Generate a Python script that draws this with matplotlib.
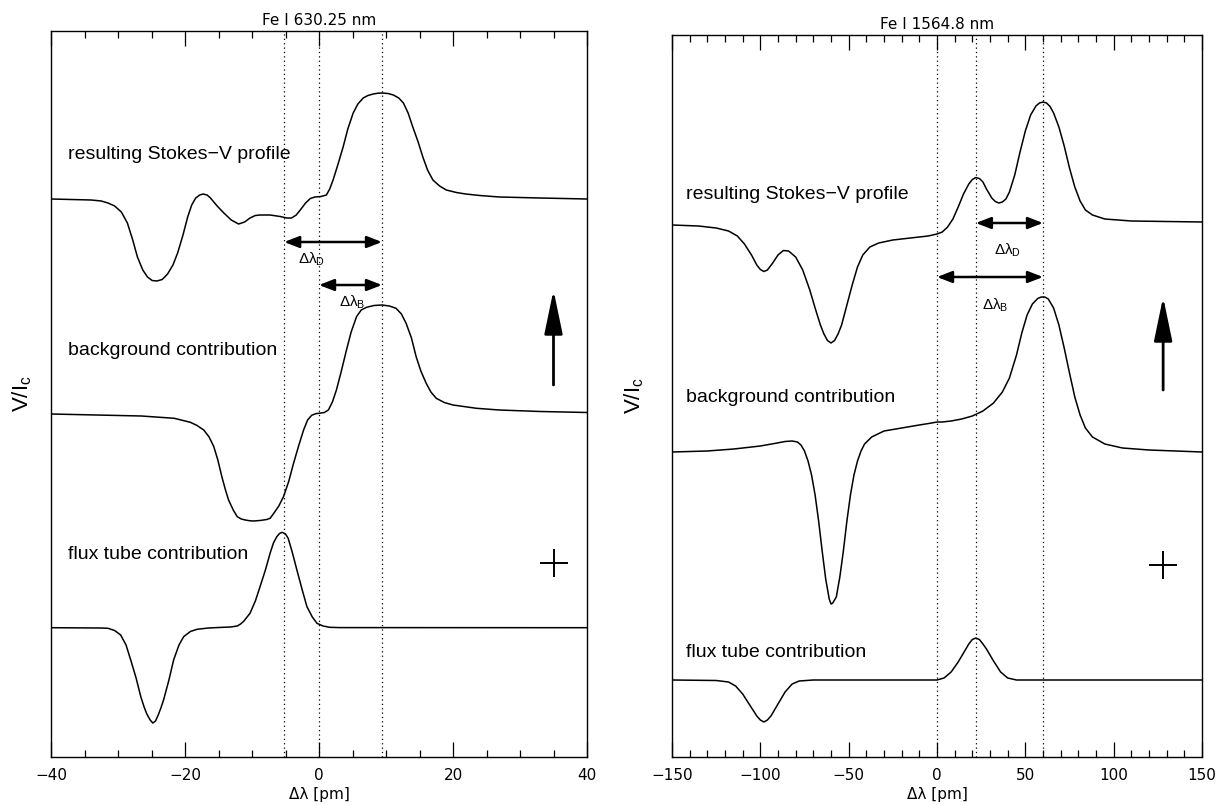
import matplotlib
matplotlib.use('Agg')
from matplotlib import pyplot as plt
from matplotlib.ticker import MultipleLocator

plt.rcParams['font.family'] = ['DejaVu Sans']
plt.rcParams['mathtext.fontset'] = 'custom'
plt.rcParams['mathtext.rm'] = 'Liberation Sans'
plt.rcParams['mathtext.it'] = 'Liberation Sans'

# ---- Fe I 630.25 nm (left) ----  x: delta lambda [pm], y: V/Ic (arbitrary, incl. offset)
l_stokes_x = [-40, -34, -32.5, -31.5, -30.5, -29.5, -28.6, -27.8, -27.1, -26.3, -25.6, -24.9, -24.2, -23.4, -22.6, -21.8,
              -21.1, -20.3, -19.6, -19.0, -18.4, -17.8, -17.3, -16.7, -16.2, -15.2, -14.2, -13.1, -12.0, -11.1, -10.3, -9.5,
              -8.8, -7.3, -5.8, -4.8, -4.1, -3.4, -2.8, -2.0, -1.3, -0.6, 0.3, 1.1, 1.6, 2.1, 2.8, 3.6, 4.3, 5.1, 5.8, 6.6,
              7.3, 8.1, 8.8, 9.4, 10.3, 11.1, 11.9, 12.6, 13.3, 14.0, 14.8, 15.5, 16.2, 17.0, 18.0, 19.0, 20.5, 21.9, 24,
              26.9, 33, 40]
l_stokes_y = [558, 557, 556, 554, 551, 545, 534, 517, 500, 487, 480, 476.5, 476, 477.5, 483, 492,
              504, 522, 540, 552, 559, 562, 563, 562, 559, 551, 544, 537, 533, 535, 539, 541.5,
              542, 542, 540.5, 539, 539, 542, 547, 554, 558.5, 560, 560.5, 562, 568, 577, 592, 610, 628, 644, 653, 659,
              661.5, 663, 663.8, 664, 663.5, 662, 659, 654, 644, 630, 615, 600, 587, 577, 571, 567, 564.5, 563, 561.5,
              560, 559, 558]
l_bg_x = [-40, -26.5, -21.6, -19.2, -18.2, -17.2, -16.4, -15.7, -15.1, -14.5, -14.0, -13.5, -12.8, -12.2, -11.6, -11.0,
          -10.4, -9.8, -8.8, -7.8, -7.3, -6.8, -6.0, -5.3, -4.5, -3.8, -3.0, -2.3, -1.7, -1.1, -0.5, 0.1, 0.8, 1.4, 2.0,
          2.6, 3.3, 4.1, 4.8, 5.6, 6.3, 7.1, 8.2, 9.4, 10.5, 11.5, 12.3, 13.0, 13.8, 14.5, 15.2, 16.0, 16.7, 17.5, 18.7,
          20.0, 23.5, 26.9, 33, 40]
l_bg_y = [343, 341, 338.7, 334.7, 331.5, 327, 320, 310.3, 297, 280.3, 268, 257, 247, 240.3, 238, 237,
          236.3, 236, 236.5, 237.5, 238.7, 243.2, 251, 260.3, 276, 293.7, 312, 327, 337, 341.7, 343.3, 343.8, 344.5, 347, 355,
          367, 385, 407, 425, 440.3, 447, 449.7, 451.5, 452, 451, 448.7, 443, 433.7, 419, 400.3, 386, 373.7, 365, 358.7, 354.5,
          352, 348.7, 347, 345.5, 344.5]
l_flux_x = [-40, -32.5, -31.5, -30.5, -29.6, -28.8, -28.1, -27.3, -26.6, -26.1, -25.7, -25.2, -24.8, -24.4, -24.0, -23.6,
            -23.2, -22.4, -21.7, -20.9, -20.2, -19.2, -18.2, -16.5, -15, -13.2, -12.2, -11.7, -11.2, -10.3, -9.5, -8.8,
            -8.0, -7.3, -6.8, -6.3, -5.9, -5.5, -5.0, -4.6, -4.0, -3.3, -2.5, -1.8, -1.0, -0.3, 0.6, 1.6, 3, 40]
l_flux_y = [129.3, 129, 128.7, 126.5, 122, 112, 97, 79, 60.3, 50, 43, 37, 34, 36, 42, 49,
            57, 77, 97, 112, 120.3, 125.5, 127.7, 129, 129.5, 130, 131, 133, 136, 143.7, 156, 170.3,
            187, 203.7, 214, 220.3, 223.5, 224.7, 223, 218.7, 205, 187, 167, 150.3, 140, 133.7, 131, 129.7, 129.4, 129.3]
l_lines = [-5.2, 0, 9.4]  # dotted reference positions

# ---- Fe I 1564.8 nm (right) ----
r_stokes_x = [-150, -135, -125, -118, -113, -109, -105, -102, -100, -98, -96, -93, -90, -87, -84, -80, -76, -72, -69, -66,
              -64, -62, -60, -58, -56, -54, -51, -48, -45, -42, -38, -33, -25, -15, -5, 0, 3, 6, 9, 12, 15, 18, 20, 22,
              24, 26, 28, 31, 33, 35, 37, 39, 41, 44, 47, 50, 53, 56, 58, 60, 62, 64, 66, 69, 72, 75, 78, 81, 84, 88, 95,
              110, 150]
r_stokes_y = [532, 531, 529, 526, 521, 513, 502, 492, 487.5, 485.5, 487, 494, 502, 506.5, 506, 500, 487, 467, 449, 432,
              423, 416.5, 414, 416.5, 423, 432, 452, 472, 490, 502, 510, 514, 517, 519, 521, 523, 525, 530, 538, 550, 563, 573, 577.5, 579.5,
              578.5, 575, 568, 559, 555.5, 554, 555, 558, 565, 582, 605, 626, 642, 651, 654, 655, 654, 650.5, 644, 630, 611, 589, 570, 556, 547, 542, 538,
              536, 535]
r_bg_x = [-150, -130, -115, -100, -92, -86, -82, -79, -77, -75, -73, -71, -69, -67, -65, -63, -61, -60, -59, -57, -55, -53,
          -51, -49, -47, -45, -43, -41, -37, -30, -20, -10, -3, 0, 3, 8, 14, 20, 26, 32, 37, 41, 45, 48, 51, 54, 57, 59,
          60, 61, 63, 66, 69, 72, 75, 78, 81, 84, 88, 95, 105, 120, 150]
r_bg_y = [305, 306, 308, 311, 313.5, 315.5, 316, 315, 312, 306, 296, 282, 262, 236, 206, 178, 158, 153, 154, 160, 180, 206,
          236, 262, 282, 296, 306, 313, 320, 326, 329, 332, 334, 335, 335, 336, 338, 341, 346, 354, 365, 379, 402, 424, 442, 453, 458.5, 460,
          460, 460, 458, 449, 432, 409, 384, 360, 342, 329, 320, 313, 309, 307, 305]
r_flux_x = [-150, -125, -118, -114, -110, -106, -102, -100, -98, -96, -94, -90, -86, -82, -78, -70, 0, 4, 8, 12, 16, 18,
            20, 22, 24, 26, 28, 32, 36, 40, 45, 150]
r_flux_y = [77, 76.5, 75, 71, 63, 52, 41, 37, 35, 37, 41, 53, 65, 73, 76, 77, 77, 79, 85, 95, 107, 113,
            117.5, 119, 117.5, 113, 108, 96, 85, 79, 77, 77]
r_lines = [0, 22, 60]

labels = ['resulting Stokes\u2212V profile', 'background contribution', 'flux tube contribution']


def panel(ax, title, xlim, ylim, major, minor, curves, lines):
    for x, y in curves:
        ax.plot(x, y, c='k', lw=1.1)
    for v in lines:
        ax.axvline(v, c='k', ls=(0, (1, 2.5)), lw=0.9)
    ax.set_xlim(*xlim)
    ax.set_ylim(*ylim)
    ax.xaxis.set_major_locator(MultipleLocator(major))
    ax.xaxis.set_minor_locator(MultipleLocator(minor))
    ax.tick_params(axis='x', which='both', direction='in', top=True, bottom=True, labelsize=11, pad=8)
    ax.tick_params(axis='x', which='major', length=10.5, width=0.9)
    ax.tick_params(axis='x', which='minor', length=5, width=0.9)
    ax.set_yticks([])
    for s in ax.spines.values():
        s.set_linewidth(1.0)
    ax.set_title(title, fontsize=11, pad=4)
    ax.set_xlabel('\u0394\u03bb [pm]', fontsize=11, labelpad=3)
    ax.set_ylabel('V/I$_\\mathrm{c}$', fontsize=16, family='Liberation Sans')


def dbl_arrow(ax, x0, x1, y):
    ax.annotate('', xy=(x1, y), xytext=(x0, y),
                arrowprops=dict(arrowstyle='<|-|>,head_length=0.9,head_width=0.35', mutation_scale=10,
                                lw=1.8, color='k', shrinkA=0, shrinkB=0))


def up_arrow(ax, x, y0, y1):
    ax.annotate('', xy=(x, y1), xytext=(x, y0),
                arrowprops=dict(arrowstyle='-|>,head_length=1.35,head_width=0.28', mutation_scale=20,
                                lw=2, color='k', shrinkA=0, shrinkB=0))


fig = plt.figure(figsize=(12.22, 8.05), dpi=100)
axl = fig.add_axes([51/1222, 48/805, 536/1222, 726/805])
axr = fig.add_axes([672/1222, 48/805, 530/1222, 722/805])

panel(axl, 'Fe I 630.25 nm', (-40, 40), (0, 726), 20, 5,
      [(l_stokes_x, l_stokes_y), (l_bg_x, l_bg_y), (l_flux_x, l_flux_y)], l_lines)
panel(axr, 'Fe I 1564.8 nm', (-150, 150), (0, 722), 50, 10,
      [(r_stokes_x, r_stokes_y), (r_bg_x, r_bg_y), (r_flux_x, r_flux_y)], r_lines)
axl.yaxis.set_label_coords(-0.032, 0.5)
axr.yaxis.set_label_coords(-0.05, 0.5)

tf = dict(fontsize=14, family='Liberation Sans', va='baseline')
for t, y in zip(labels, [598, 402, 198]):
    axl.text(-37.5, y, t, **tf)
for t, y in zip(labels, [558, 355, 100]):
    axr.text(-142, y, t, **tf)

# line shift arrows
dbl_arrow(axl, l_lines[0], l_lines[2], 515)
dbl_arrow(axl, l_lines[1], l_lines[2], 472)
axl.text(-3.1, 493, r'$\Delta\lambda_\mathrm{D}$', fontsize=11)
axl.text(3.0, 450, r'$\Delta\lambda_\mathrm{B}$', fontsize=11)
dbl_arrow(axr, r_lines[1], r_lines[2], 534)
dbl_arrow(axr, r_lines[0], r_lines[2], 480)
axr.text(32, 502, r'$\Delta\lambda_\mathrm{D}$', fontsize=11)
axr.text(25.5, 447, r'$\Delta\lambda_\mathrm{B}$', fontsize=11)

# polarity markers
up_arrow(axl, 35, 372, 467)
up_arrow(axr, 128, 367, 460)
axl.plot([35], [194], marker='+', ms=20, mew=1.4, c='k')
axr.plot([128], [192], marker='+', ms=20, mew=1.4, c='k')

plt.savefig('out.png', dpi=100)
